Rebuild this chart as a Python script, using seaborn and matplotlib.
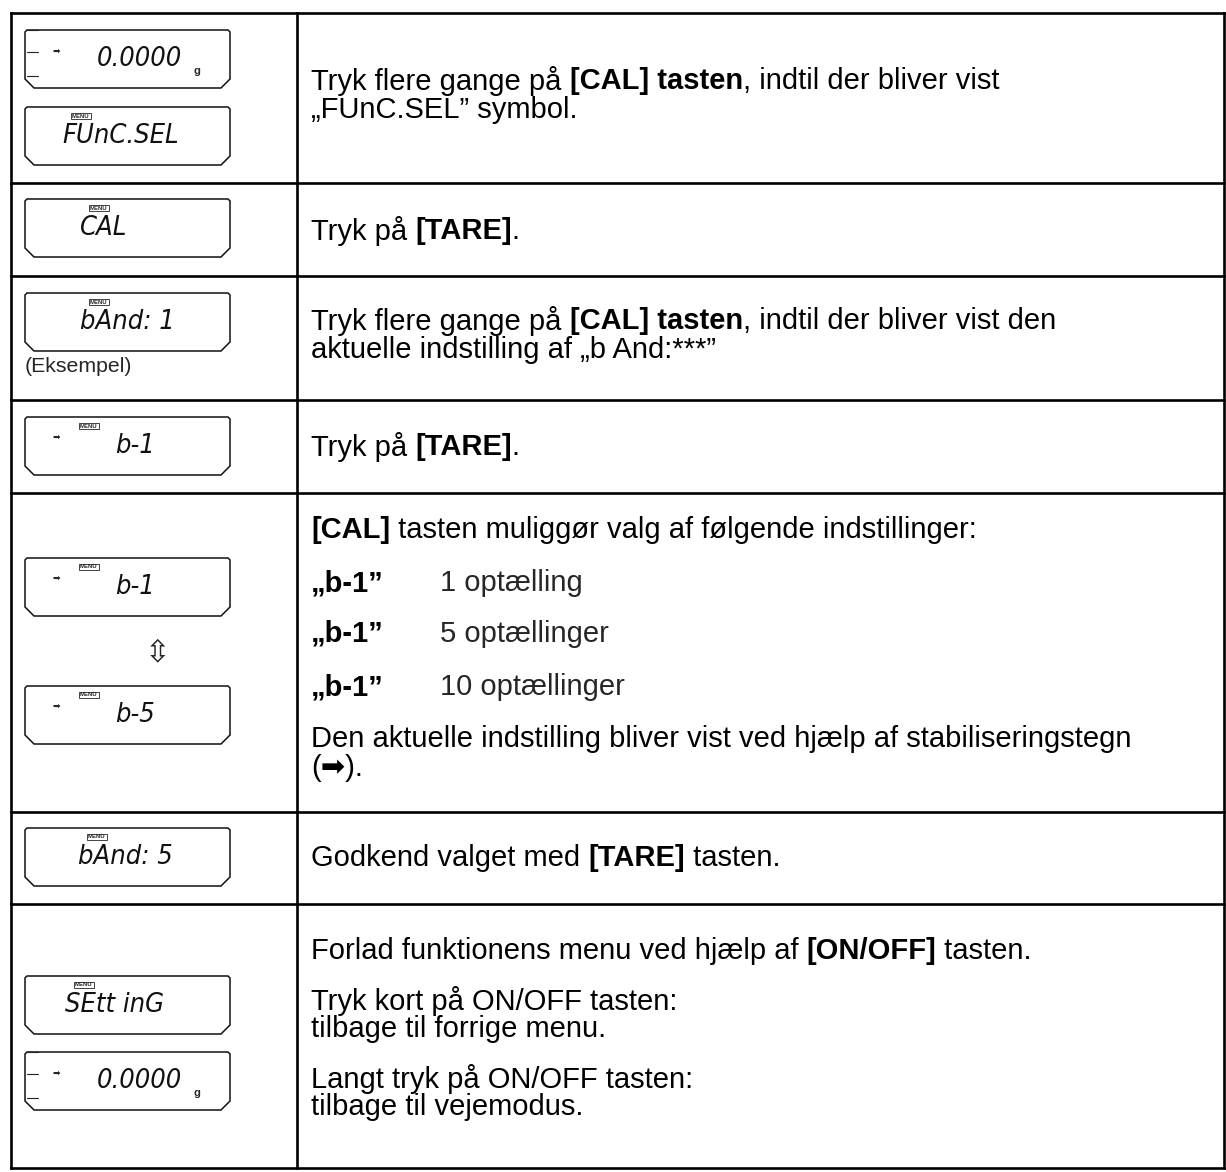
import matplotlib
matplotlib.use("Agg")
import matplotlib.pyplot as plt
from matplotlib.patches import Polygon
import seaborn as sns

sns.set_theme(style="white")
plt.rcParams['font.family'] = ['Liberation Sans', 'DejaVu Sans']

# ---------------- data ----------------
row_bounds = [13, 183, 276, 400, 493, 812, 904, 1168]
col_bounds = [11, 297, 1224]

# LCD displays
lcd_texts = ["0.0000", "FUnC.SEL", "CAL", "bAnd: 1", "b-1", "b-1", "b-5",
             "bAnd: 5", "SEtt inG", "0.0000"]
lcd_tops = [30, 107, 199, 293, 417, 558, 686, 828, 976, 1052]
lcd_kinds = ["weigh", "menu", "menu", "menu", "arrow", "arrow", "arrow",
             "menu", "menu", "weigh"]
lcd_text_x = [97, 62, 80, 80, 115, 115, 115, 78, 65, 97]

# right-column text lines: list of segments (text, bold), y centre, x start
text_lines = [
    ([("Tryk flere gange på ", False), ("[CAL] tasten", True), (", indtil der bliver vist", False)], 81, 311),
    ([("„FUnC.SEL” symbol.", False)], 110, 311),
    ([("Tryk på ", False), ("[TARE]", True), (".", False)], 231, 311),
    ([("Tryk flere gange på ", False), ("[CAL] tasten", True), (", indtil der bliver vist den", False)], 321, 311),
    ([("aktuelle indstilling af „b And:***”", False)], 350, 311),
    ([("Tryk på ", False), ("[TARE]", True), (".", False)], 447, 311),
    ([("[CAL]", True), (" tasten muliggør valg af følgende indstillinger:", False)], 530, 311),
    ([("„b-1”", True)], 583, 311),
    ([("„b-1”", True)], 634, 311),
    ([("„b-1”", True)], 687, 311),
    ([("Den aktuelle indstilling bliver vist ved hjælp af stabiliseringstegn", False)], 739, 311),
    ([("(➡).", False)], 768, 311),
    ([("Godkend valget med ", False), ("[TARE]", True), (" tasten.", False)], 858, 311),
    ([("Forlad funktionens menu ved hjælp af ", False), ("[ON/OFF]", True), (" tasten.", False)], 951, 311),
    ([("Tryk kort på ON/OFF tasten:", False)], 1001, 311),
    ([("tilbage til forrige menu.", False)], 1029, 311),
    ([("Langt tryk på ON/OFF tasten:", False)], 1079, 311),
    ([("tilbage til vejemodus.", False)], 1107, 311),
]
option_labels = ["1 optælling", "5 optællinger", "10 optællinger"]
option_y = [583, 634, 687]

# ---------------- figure ----------------
W, H = 1226, 1172
fig = plt.figure(figsize=(W / 100, H / 100), dpi=100)
ax = fig.add_axes([0, 0, 1, 1])
ax.set_xlim(0, W)
ax.set_ylim(H, 0)
ax.axis("off")
fig.patch.set_facecolor("white")

FS = 21
renderer = fig.canvas.get_renderer()


def text_width(s, bold):
    t1 = ax.text(0, 0, "|" + s + "|", fontsize=FS, fontweight="bold" if bold else "normal")
    t2 = ax.text(0, 0, "||", fontsize=FS, fontweight="bold" if bold else "normal")
    w = t1.get_window_extent(renderer).width - t2.get_window_extent(renderer).width
    t1.remove(); t2.remove()
    return w


def draw_rich(segs, y, x):
    for s, b in segs:
        ax.text(x, y, s, fontsize=FS, fontweight="bold" if b else "normal",
                va="center", ha="left", color="black")
        x += text_width(s, b)


# table grid
lw = 1.9
for yb in row_bounds:
    ax.plot([col_bounds[0], col_bounds[-1]], [yb, yb], color="black", lw=lw, solid_capstyle="projecting")
for xb in col_bounds:
    ax.plot([xb, xb], [row_bounds[0], row_bounds[-1]], color="black", lw=lw, solid_capstyle="projecting")


def lcd_box(top, x0=25, x1=230, h=58):
    b = top + h
    pts = [(x0, top + 2), (x0 + 2, top), (x1 - 2, top), (x1, top + 2),
           (x1, b - 9), (x1 - 9, b), (x0 + 9, b), (x0, b - 9)]
    ax.add_patch(Polygon(pts, closed=True, fill=False, ec="#111111", lw=1.1))


for txt, top, kind, tx in zip(lcd_texts, lcd_tops, lcd_kinds, lcd_text_x):
    lcd_box(top)
    cy = top + 29
    ax.text(tx, cy, txt, fontsize=19.5, family="DejaVu Sans", fontstretch="condensed",
            style="oblique", va="center", ha="left", color="#111111")
    if kind == "weigh":
        for dy in (0, 22, 46):
            ax.plot([27, 38], [top + dy, top + dy], color="#222222", lw=0.8)
        ax.text(52, top + 21, "➡", fontsize=6.5, family="DejaVu Sans", va="center", ha="left")
        ax.text(194, top + 41, "g", fontsize=8, fontweight="bold", va="center", ha="left")
    else:
        my = top + 9
        if kind == "arrow":
            ax.text(52, top + 20, "➡", fontsize=6.5, family="DejaVu Sans", va="center", ha="left")
        ax.text(tx + 10 if kind != "arrow" else 80, my, "MENU", fontsize=4.3, fontweight="bold",
                va="center", ha="left",
                bbox=dict(boxstyle="square,pad=0.15", fc="white", ec="#222222", lw=0.6))

ax.text(25, 366, "(Eksempel)", fontsize=15.3, va="center", ha="left")
ax.text(158, 653, "⇳", fontsize=22, family="DejaVu Sans", va="center", ha="center")

for segs, y, x in text_lines:
    draw_rich(segs, y, x)
for lab, y in zip(option_labels, option_y):
    ax.text(440, y, lab, fontsize=FS, va="center", ha="left")

fig.savefig("out.png", dpi=100, facecolor="white")
